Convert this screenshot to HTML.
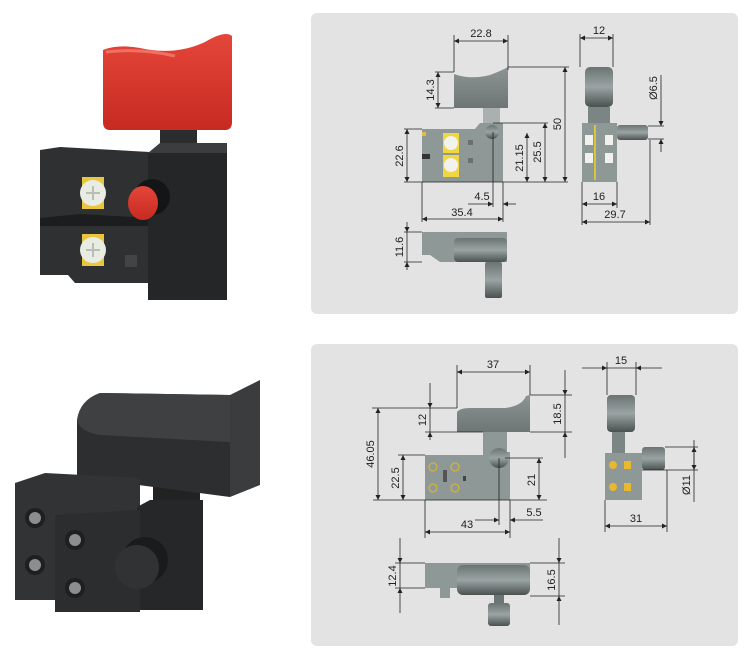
<!DOCTYPE html>
<html><head><meta charset="utf-8"><style>
html,body{margin:0;padding:0;background:#fff;width:750px;height:663px;overflow:hidden}
svg{display:block}
text{font-family:"Liberation Sans",sans-serif;font-size:11px;fill:#222}
</style></head><body>
<svg width="750" height="663" viewBox="0 0 750 663" xmlns="http://www.w3.org/2000/svg">
<defs>
<marker id="a" viewBox="0 0 10 10" refX="10" refY="5" markerWidth="7" markerHeight="5" orient="auto-start-reverse" markerUnits="userSpaceOnUse"><path d="M0,0L10,5L0,10z" fill="#222"/></marker>
<linearGradient id="gg" x1="0" y1="0" x2="0" y2="1"><stop offset="0" stop-color="#8c9594"/><stop offset="1" stop-color="#6d7675"/></linearGradient>
<linearGradient id="dk" x1="0" y1="0" x2="0" y2="1"><stop offset="0" stop-color="#6b7473"/><stop offset="0.5" stop-color="#9aa4a3"/><stop offset="1" stop-color="#4a5251"/></linearGradient>
<linearGradient id="red" x1="0" y1="0" x2="0" y2="1"><stop offset="0" stop-color="#e5463a"/><stop offset="1" stop-color="#c62a20"/></linearGradient>
<linearGradient id="blk" x1="0" y1="0" x2="0" y2="1"><stop offset="0" stop-color="#4a4c4e"/><stop offset="1" stop-color="#262829"/></linearGradient>
</defs>

<rect x="311" y="13" width="427" height="301" rx="6" fill="#e3e3e3"/>
<rect x="311" y="344" width="427" height="302" rx="6" fill="#e3e3e3"/>

<!-- RED SWITCH -->
<g>
<path d="M103,50 Q118,44 140,48 Q175,56 205,42 Q225,30 232,36 L232,122 Q232,130 225,130 L110,130 Q103,130 103,122 Z" fill="url(#red)"/>
<path d="M106,52 Q140,48 175,56" stroke="#f07064" stroke-width="3" fill="none"/>
<rect x="160" y="130" width="37" height="30" fill="#2a2c2d"/>
<rect x="172" y="143" width="10" height="12" fill="#6a6d6e"/>
<path d="M40,150 L60,147 L150,152 L150,283 L75,283 L68,275 L40,275 Z" fill="#2e3031"/>
<path d="M40,218 L80,214 L150,218 L150,226 L40,226 Z" fill="#1c1d1e"/>
<path d="M148,153 L227,153 L227,300 L148,300 Z" fill="#242627"/>
<path d="M148,153 L160,143 L227,143 L227,153 Z" fill="#3b3d3f"/>
<rect x="82" y="177" width="22" height="32" fill="#e9c63e"/>
<rect x="82" y="234" width="22" height="32" fill="#e9c63e"/>
<circle cx="93" cy="193" r="13" fill="#e8ece2"/>
<circle cx="93" cy="250" r="13" fill="#e8ece2"/>
<path d="M86,193h14M93,186v14M86,250h14M93,243v14" stroke="#b9beb4" stroke-width="2"/>
<circle cx="152" cy="197" r="18" fill="#141516"/>
<ellipse cx="143" cy="203" rx="15" ry="17" fill="url(#red)"/>
<rect x="125" y="255" width="12" height="12" fill="#444"/>
</g>

<!-- BLACK SWITCH -->
<g>
<rect x="153" y="470" width="47" height="40" fill="#222"/>
<path d="M77,420 Q80,400 100,393 L230,395 L230,497 L77,477 Z" fill="#2c2e30"/>
<path d="M77,420 Q80,400 100,393 L230,395 L230,442 L100,435 Q80,432 77,420 Z" fill="#3e4042"/>
<path d="M230,395 L260,380 L260,485 L230,497 Z" fill="#3a3c3e"/>
<path d="M15,483 L45,473 L140,478 L140,600 L15,600 Z" fill="#313335"/>
<path d="M137,507 L150,500 L203,500 L203,610 L137,610 Z" fill="#252728"/>
<path d="M55,515 L140,510 L140,612 L55,612 Z" fill="#2b2d2f"/>
<g fill="#1e1f20"><circle cx="35" cy="518" r="10"/><circle cx="35" cy="565" r="10"/><circle cx="75" cy="540" r="10"/><circle cx="75" cy="588" r="10"/></g>
<g fill="#8a8e8f"><circle cx="35" cy="518" r="6"/><circle cx="35" cy="565" r="6"/><circle cx="75" cy="540" r="6"/><circle cx="75" cy="588" r="6"/></g>
<circle cx="145" cy="560" r="23" fill="#1a1b1c"/>
<circle cx="137" cy="567" r="22" fill="#303234"/>
</g>

<!-- PANEL 1 DRAWINGS -->
<g>
<path d="M454,74 Q470,80 490,75 Q503,70 508,67 L508,108 L454,108 Z" fill="url(#gg)"/>
<rect x="483" y="108" width="17" height="16" fill="#aab0b0"/>
<path d="M422,129 L475,129 L480,123 L503,123 L503,182 L422,182 Z" fill="#8e9897"/>
<rect x="443" y="133" width="16" height="20" fill="#f0d640"/><circle cx="451" cy="143" r="7" fill="#f2f2ee"/>
<rect x="443" y="155" width="16" height="22" fill="#f0d640"/><circle cx="451" cy="165" r="7" fill="#f2f2ee"/>
<rect x="422" y="132" width="4" height="4" fill="#e0c040"/><rect x="422" y="154" width="8" height="5" fill="#333"/>
<rect x="468" y="140" width="5" height="5" fill="#6a7070"/><rect x="468" y="158" width="5" height="5" fill="#6a7070"/>
<circle cx="492" cy="132" r="7" fill="url(#dk)"/>
<rect x="585" y="67" width="28" height="40" rx="5" fill="url(#dk)"/>
<rect x="588" y="107" width="22" height="16" fill="#7b8584"/>
<rect x="582" y="123" width="35" height="59" fill="#8e9897"/>
<rect x="594" y="125" width="2" height="55" fill="#d9c53a"/>
<rect x="585" y="135" width="8" height="10" fill="#f0f0ec"/><rect x="585" y="153" width="8" height="10" fill="#f0f0ec"/>
<rect x="605" y="135" width="8" height="10" fill="#f0f0ec"/><rect x="605" y="153" width="8" height="10" fill="#f0f0ec"/>
<rect x="617" y="125" width="31" height="15" rx="3" fill="url(#dk)"/>
<path d="M422,232 L507,232 L507,262 L440,262 L430,255 L422,255 Z" fill="#8e9897"/>
<rect x="454" y="238" width="53" height="24" rx="4" fill="url(#dk)"/>
<rect x="485" y="262" width="17" height="36" rx="2" fill="url(#dk)"/>
</g>
<g stroke="#222" stroke-width="0.8" fill="none">
<path d="M454,35V72M508,35V70M435,72H454M435,108H454M508,67H569M404,129H422M404,182H568M493,123H548M422,182V222M503,182V222M493,132V207M580,34V67M613,34V67M617,182V208M582,182V225M650,140V225M648,126H664M648,139H664M404,232H422M404,262H422"/>
<line x1="454" y1="41" x2="508" y2="41" marker-start="url(#a)" marker-end="url(#a)"/>
<line x1="438" y1="72" x2="438" y2="108" marker-start="url(#a)" marker-end="url(#a)"/>
<line x1="565" y1="67" x2="565" y2="182" marker-start="url(#a)" marker-end="url(#a)"/>
<line x1="407" y1="129" x2="407" y2="182" marker-start="url(#a)" marker-end="url(#a)"/>
<line x1="527" y1="133" x2="527" y2="182" marker-start="url(#a)" marker-end="url(#a)"/>
<line x1="545" y1="123" x2="545" y2="182" marker-start="url(#a)" marker-end="url(#a)"/>
<line x1="468" y1="204" x2="493" y2="204" marker-end="url(#a)"/>
<line x1="516" y1="204" x2="503" y2="204" marker-end="url(#a)"/>
<line x1="422" y1="219" x2="503" y2="219" marker-start="url(#a)" marker-end="url(#a)"/>
<line x1="580" y1="38" x2="613" y2="38" marker-start="url(#a)" marker-end="url(#a)"/>
<line x1="661" y1="75" x2="661" y2="126" marker-end="url(#a)"/>
<line x1="661" y1="152" x2="661" y2="139" marker-end="url(#a)"/>
<line x1="582" y1="204" x2="617" y2="204" marker-start="url(#a)" marker-end="url(#a)"/>
<line x1="582" y1="222" x2="650" y2="222" marker-start="url(#a)" marker-end="url(#a)"/>
<line x1="407" y1="222" x2="407" y2="232" marker-end="url(#a)"/>
<line x1="407" y1="270" x2="407" y2="262" marker-end="url(#a)"/>
<line x1="407" y1="232" x2="407" y2="262"/>
</g>
<g text-anchor="middle">
<text x="481" y="37">22.8</text>
<text transform="translate(434,90) rotate(-90)">14.3</text>
<text transform="translate(561,124) rotate(-90)">50</text>
<text transform="translate(403,156) rotate(-90)">22.6</text>
<text transform="translate(523,158) rotate(-90)">21.15</text>
<text transform="translate(541,152) rotate(-90)">25.5</text>
<text x="482" y="200">4.5</text>
<text x="462" y="216">35.4</text>
<text x="599" y="34">12</text>
<text transform="translate(657,88) rotate(-90)">Ø6.5</text>
<text x="599" y="200">16</text>
<text x="615" y="218">29.7</text>
<text transform="translate(403,247) rotate(-90)">11.6</text>
</g>

<!-- PANEL 2 DRAWINGS -->
<g>
<path d="M457,412 Q460,408 470,408 L505,408 Q522,406 526,396 L530,395 L530,432 L457,432 Z" fill="url(#gg)"/>
<rect x="483" y="432" width="24" height="24" fill="#8e9897"/>
<path d="M425,455 L483,455 L483,452 L510,452 L510,500 L425,500 Z" fill="#8e9897"/>
<circle cx="499" cy="458" r="10" fill="url(#dk)"/>
<g fill="none" stroke="#d4b23a" stroke-width="1.3"><circle cx="433" cy="467" r="4"/><circle cx="455" cy="467" r="4"/><circle cx="433" cy="488" r="4"/><circle cx="455" cy="488" r="4"/></g>
<rect x="443" y="470" width="4" height="12" fill="#555"/><rect x="463" y="476" width="3" height="5" fill="#444"/>
<rect x="607" y="395" width="28" height="37" rx="4" fill="url(#dk)"/>
<rect x="612" y="432" width="13" height="22" fill="#7b8584"/>
<rect x="605" y="453" width="37" height="47" fill="#8e9897"/>
<g fill="#e8b830"><circle cx="613" cy="465" r="4"/><circle cx="613" cy="487" r="4"/><rect x="624" y="461" width="7" height="8"/><rect x="624" y="483" width="7" height="8"/></g>
<rect x="642" y="447" width="23" height="23" rx="3" fill="url(#dk)"/>
<path d="M425,563 L530,563 L530,588 L450,588 L450,598 L440,598 L440,588 L425,588 Z" fill="#8e9897"/>
<rect x="457" y="565" width="73" height="30" rx="6" fill="url(#dk)"/>
<rect x="488" y="603" width="22" height="23" rx="3" fill="url(#dk)"/>
<rect x="494" y="595" width="10" height="8" fill="#6a7474"/>
</g>
<g stroke="#222" stroke-width="0.8" fill="none">
<path d="M457,365V408M530,365V395M372,408H457M425,432H483M530,395H572M530,432H572M373,500H547M398,455H425M505,458H543M425,500V538M510,500V538M499,458V525M607,362V395M636,362V395M642,470H698M665,447H698M605,500V532M667,470V532M395,563H425M395,588H425M530,563H565M530,596H565"/>
<line x1="457" y1="372" x2="530" y2="372" marker-start="url(#a)" marker-end="url(#a)"/>
<line x1="430" y1="383" x2="430" y2="408" marker-end="url(#a)"/>
<line x1="430" y1="440" x2="430" y2="432" marker-end="url(#a)"/>
<line x1="430" y1="408" x2="430" y2="432"/>
<line x1="565" y1="370" x2="565" y2="395" marker-end="url(#a)"/>
<line x1="565" y1="458" x2="565" y2="432" marker-end="url(#a)"/>
<line x1="565" y1="395" x2="565" y2="432"/>
<line x1="378" y1="408" x2="378" y2="500" marker-start="url(#a)" marker-end="url(#a)"/>
<line x1="403" y1="455" x2="403" y2="500" marker-start="url(#a)" marker-end="url(#a)"/>
<line x1="539" y1="458" x2="539" y2="500" marker-start="url(#a)" marker-end="url(#a)"/>
<line x1="475" y1="520" x2="499" y2="520" marker-end="url(#a)"/>
<line x1="543" y1="520" x2="510" y2="520" marker-end="url(#a)"/>
<line x1="425" y1="532" x2="510" y2="532" marker-start="url(#a)" marker-end="url(#a)"/>
<line x1="582" y1="368" x2="607" y2="368" marker-end="url(#a)"/>
<line x1="662" y1="368" x2="636" y2="368" marker-end="url(#a)"/>
<line x1="607" y1="368" x2="636" y2="368"/>
<line x1="694" y1="447" x2="694" y2="470" marker-start="url(#a)" marker-end="url(#a)"/>
<line x1="694" y1="440" x2="694" y2="502"/>
<line x1="605" y1="526" x2="667" y2="526" marker-start="url(#a)" marker-end="url(#a)"/>
<line x1="400" y1="538" x2="400" y2="563" marker-end="url(#a)"/>
<line x1="400" y1="613" x2="400" y2="588" marker-end="url(#a)"/>
<line x1="400" y1="563" x2="400" y2="588"/>
<line x1="559" y1="538" x2="559" y2="563" marker-end="url(#a)"/>
<line x1="559" y1="625" x2="559" y2="596" marker-end="url(#a)"/>
<line x1="559" y1="563" x2="559" y2="596"/>
</g>
<g text-anchor="middle">
<text x="493" y="368">37</text>
<text transform="translate(426,420) rotate(-90)">12</text>
<text transform="translate(561,414) rotate(-90)">18.5</text>
<text transform="translate(374,454) rotate(-90)">46.05</text>
<text transform="translate(399,478) rotate(-90)">22.5</text>
<text transform="translate(535,480) rotate(-90)">21</text>
<text x="534" y="516">5.5</text>
<text x="467" y="528">43</text>
<text x="621" y="364">15</text>
<text transform="translate(690,485) rotate(-90)">Ø11</text>
<text x="636" y="522">31</text>
<text transform="translate(396,576) rotate(-90)">12.4</text>
<text transform="translate(555,580) rotate(-90)">16.5</text>
</g>
</svg>
</body></html>
